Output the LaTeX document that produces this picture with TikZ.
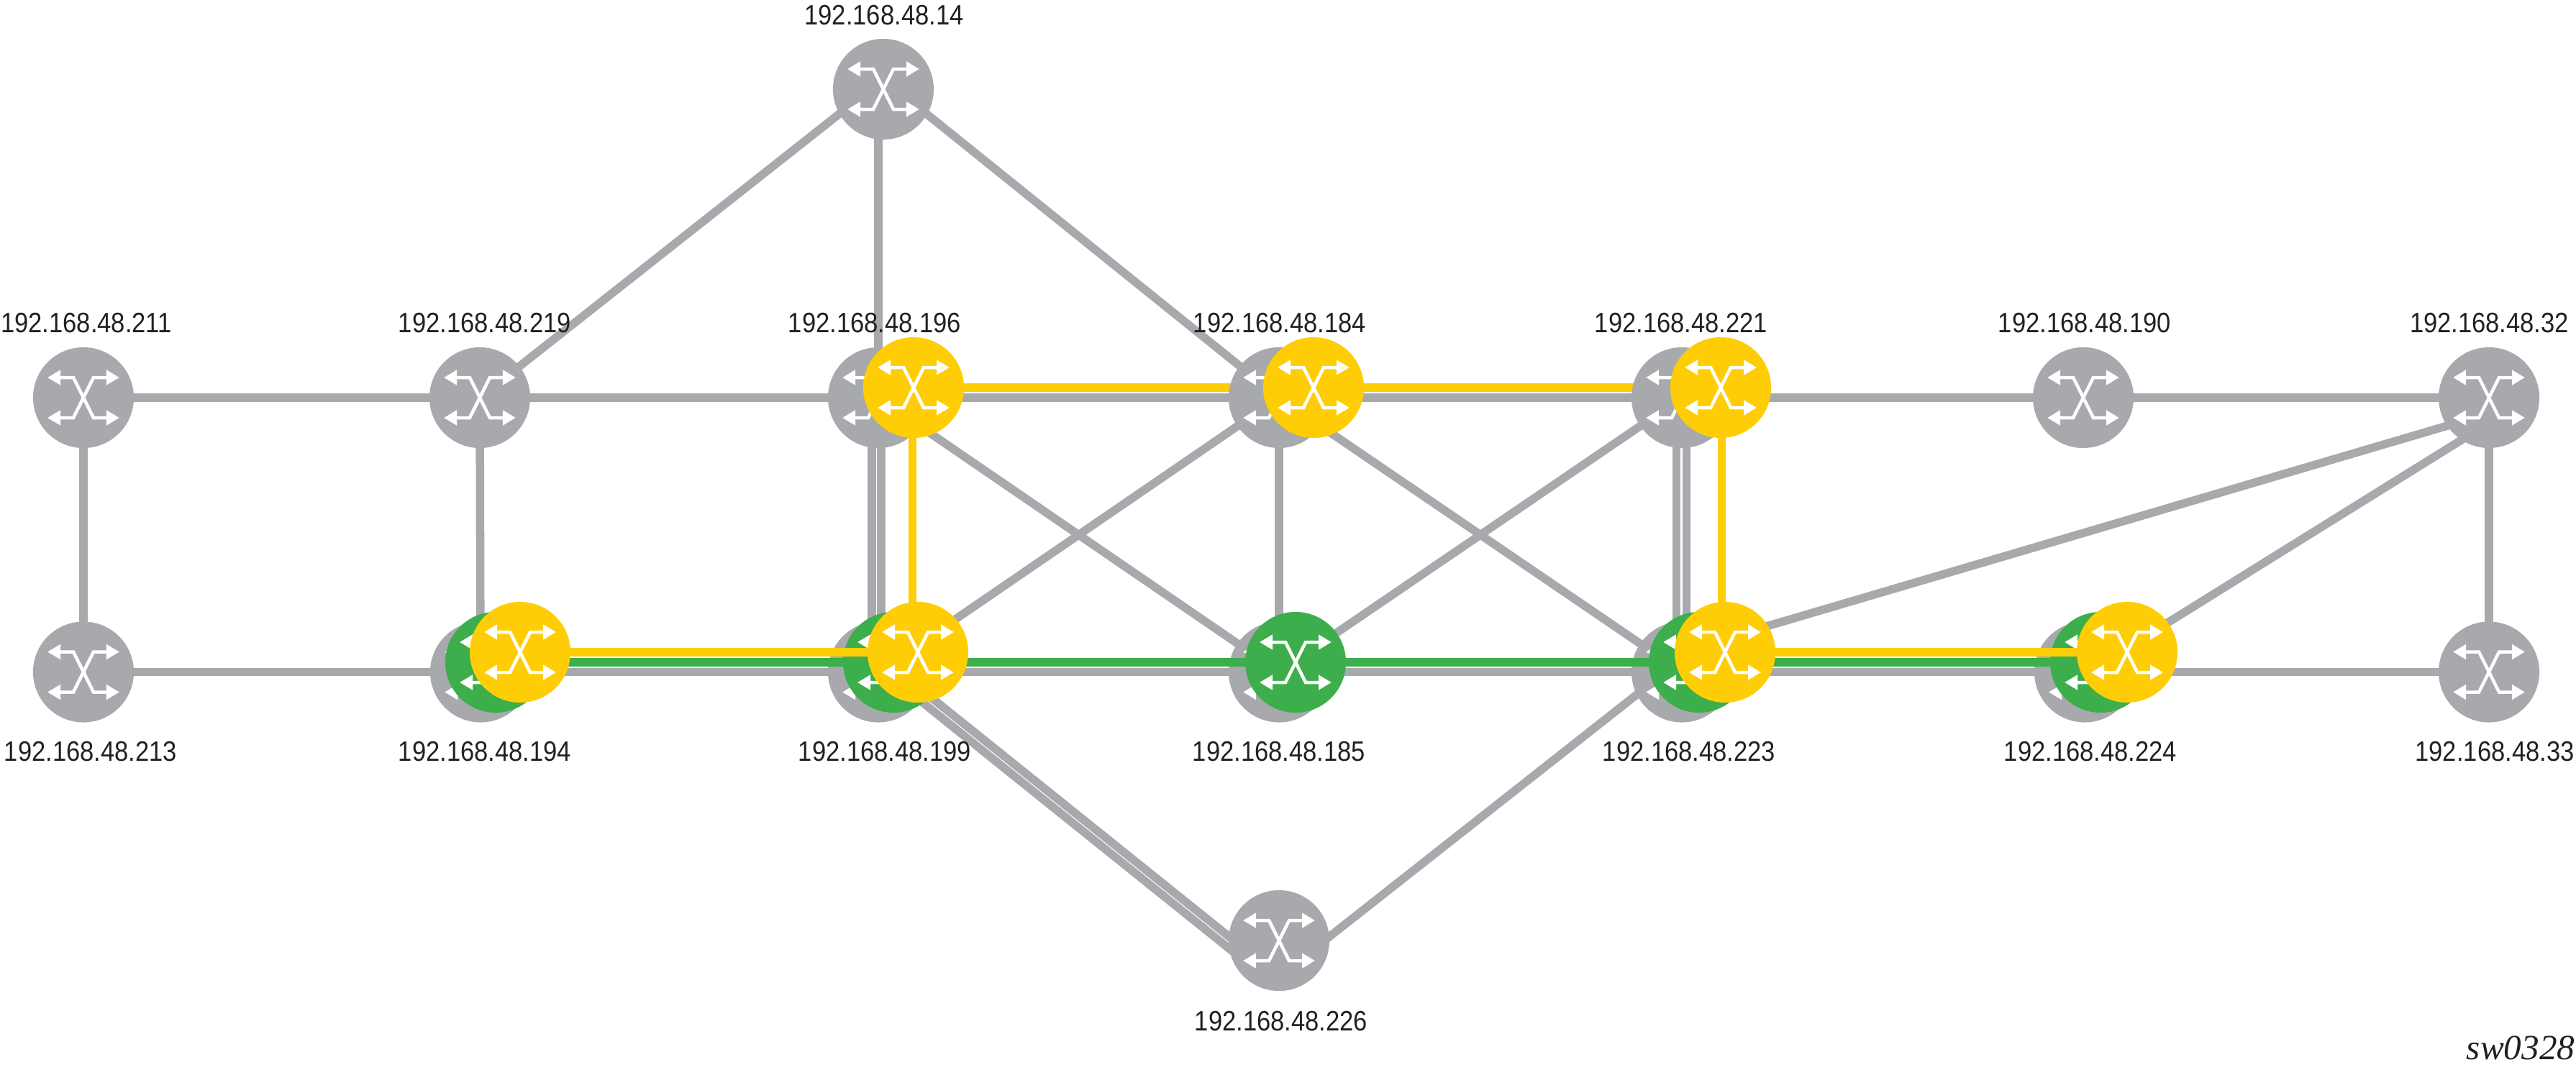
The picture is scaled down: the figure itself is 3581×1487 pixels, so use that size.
\documentclass[tikz,border=0pt]{standalone}
\usepackage{fontspec}
\setmainfont[FakeStretch=0.885]{Liberation Sans}
\newfontfamily\tagfont{Liberation Serif}
\usetikzlibrary{arrows.meta}
\definecolor{lnkgray}{HTML}{A7A9AC}
\definecolor{lnkgreen}{HTML}{3CAE4B}
\definecolor{lnkyellow}{HTML}{FFCD05}
\definecolor{lbltext}{HTML}{231F20}
\pgfdeclarelayer{graylinks}
\pgfdeclarelayer{greenlinks}
\pgfdeclarelayer{greennodes}
\pgfdeclarelayer{yellowlinks}
\pgfdeclarelayer{yellownodes}
\pgfsetlayers{graylinks,main,greenlinks,greennodes,yellowlinks,yellownodes}
\tikzset{
	swarrow/.style={white,line width=0.045cm,
		{Triangle[length=0.18cm,width=0.2cm]}-{Triangle[length=0.18cm,width=0.2cm]}},
	switch/.style={circle,fill=#1,minimum size=1.4cm,inner sep=0pt,
		path picture={
			\begin{scope}[shift={(path picture bounding box.center)}]
				\draw[swarrow] (-50,-28) -- (-14,-28) -- (14,28) -- (50,28);
				\draw[swarrow] (-50,28) -- (-14,28) -- (14,-28) -- (50,-28);
			\end{scope}
		}},
	link/.style={draw=#1,line width=0.115cm},
	addr/.style={text=lbltext,inner sep=0pt,font=\fontsize{11.1}{13}\selectfont}
}
\begin{document}
\begin{tikzpicture}[x=0.01cm,y=-0.01cm]
	\useasboundingbox (0,0) rectangle (3581,1487);
	% gray switches
	\node [switch=lnkgray] (g14) at (1228,124) {};
	\node [switch=lnkgray] (g211) at (116,553) {};
	\node [switch=lnkgray] (g219) at (667,553) {};
	\node [switch=lnkgray] (g196) at (1221,553) {};
	\node [switch=lnkgray] (g184) at (1778,553) {};
	\node [switch=lnkgray] (g221) at (2338,553) {};
	\node [switch=lnkgray] (g190) at (2896,553) {};
	\node [switch=lnkgray] (g32) at (3460,553) {};
	\node [switch=lnkgray] (g213) at (116,934.5) {};
	\node [switch=lnkgray] (g194) at (668,934.5) {};
	\node [switch=lnkgray] (g199) at (1221,934.5) {};
	\node [switch=lnkgray] (g185) at (1778,934.5) {};
	\node [switch=lnkgray] (g223) at (2338,934.5) {};
	\node [switch=lnkgray] (g224) at (2898,934.5) {};
	\node [switch=lnkgray] (g33) at (3460,934.5) {};
	\node [switch=lnkgray] (g226) at (1778,1308) {};
	% green switches
	\begin{pgfonlayer}{greennodes}
		\node [switch=lnkgreen] (c194) at (689,921) {};
		\node [switch=lnkgreen] (c199) at (1242,921) {};
		\node [switch=lnkgreen] (c185) at (1801,921) {};
		\node [switch=lnkgreen] (c223) at (2362,921) {};
		\node [switch=lnkgreen] (c224) at (2920,921) {};
	\end{pgfonlayer}
	% yellow switches
	\begin{pgfonlayer}{yellownodes}
		\node [switch=lnkyellow] (y196) at (1270,539) {};
		\node [switch=lnkyellow] (y184) at (1826,539) {};
		\node [switch=lnkyellow] (y221) at (2392,539) {};
		\node [switch=lnkyellow] (y194) at (723,907) {};
		\node [switch=lnkyellow] (y199) at (1276,907) {};
		\node [switch=lnkyellow] (y223) at (2398,907) {};
		\node [switch=lnkyellow] (y224) at (2957,907) {};
	\end{pgfonlayer}
	% gray links
	\begin{pgfonlayer}{graylinks}
		\draw [link=lnkgray] (g211.center) -- (g219.center) -- (g196.center) -- (g184.center) -- (g221.center) -- (g190.center) -- (g32.center);
		\draw [link=lnkgray] (g213.center) -- (g194.center) -- (g199.center) -- (g185.center) -- (g223.center) -- (g224.center) -- (g33.center);
		\draw [link=lnkgray] (g211.center) -- (g213.center);
		\draw [link=lnkgray] (g219.center) -- (g194.center);
		\draw [link=lnkgray] (g184.center) -- (g185.center);
		\draw [link=lnkgray] (g32.center) -- (g33.center);
		\draw [link=lnkgray] (g196.center) -- (g196.center |- g14.center);
		\draw [link=lnkgray] ([shift={(0,-14)}]g14.center) -- (g219.center);
		\draw [link=lnkgray] ([shift={(0,-14)}]g14.center) -- (g184.center);
		\draw [link=lnkgray] ([shift={(-9,0)}]g196.center) -- ([shift={(-9,0)}]g199.center);
		\draw [link=lnkgray] ([shift={(4,0)}]g196.center) -- ([shift={(4,0)}]g199.center);
		\draw [link=lnkgray] ([shift={(-7.5,0)}]g221.center) -- ([shift={(-7.5,0)}]g223.center);
		\draw [link=lnkgray] ([shift={(6.5,0)}]g221.center) -- ([shift={(6.5,0)}]g223.center);
		\draw [link=lnkgray] (g196.center) -- (g185.center);
		\draw [link=lnkgray] (g184.center) -- (g199.center);
		\draw [link=lnkgray] (g184.center) -- (g223.center);
		\draw [link=lnkgray] (g221.center) -- (g185.center);
		\draw [link=lnkgray] ([shift={(23,-5)}]g199.center) -- ([shift={(-34,23)}]g226.center);
		\draw [link=lnkgray] ([shift={(15,5)}]g199.center) -- ([shift={(-42,33)}]g226.center);
		\draw [link=lnkgray] ([shift={(20,34)}]g226.center) -- ([shift={(0,-18)}]g223.center);
		\draw [link=lnkgray] ([shift={(0,22)}]g32.center) -- ([shift={(0,-19)}]y223.center);
		\draw [link=lnkgray] ([shift={(0,35)}]g32.center) -- ([shift={(0,-6)}]y224.center);
		% yellow links of the top row
		\draw [link=lnkyellow] (y196.center) -- (y184.center) -- (y221.center);
	\end{pgfonlayer}
	% green links
	\begin{pgfonlayer}{greenlinks}
		\draw [link=lnkgreen] (c194.center) -- (c199.center) -- (c185.center) -- (c223.center) -- (c224.center);
	\end{pgfonlayer}
	% yellow links
	\begin{pgfonlayer}{yellowlinks}
		\draw [link=lnkyellow] (y194.center) -- (y199.center);
		\draw [link=lnkyellow] (y223.center) -- (y224.center);
		\draw [link=lnkyellow] ([shift={(-1.5,0)}]y196.center) -- ([shift={(-7.5,0)}]y199.center);
		\draw [link=lnkyellow] ([shift={(1.5,0)}]y221.center) -- ([shift={(-4.5,0)}]y223.center);
	\end{pgfonlayer}
	% addresses
	\node [addr] (a14) at (1229,21) {192.168.48.14};
	\node [addr] (a211) at (120,449.5) {192.168.48.211};
	\node [addr] (a219) at (674,449.5) {192.168.48.219};
	\node [addr] (a196) at (1216,449.5) {192.168.48.196};
	\node [addr] (a184) at (1779,449.5) {192.168.48.184};
	\node [addr] (a221) at (2337,449.5) {192.168.48.221};
	\node [addr] (a190) at (2898,449.5) {192.168.48.190};
	\node [addr] (a32) at (3460.5,449.5) {192.168.48.32};
	\node [addr] (a213) at (126,1045) {192.168.48.213};
	\node [addr] (a194) at (674,1045) {192.168.48.194};
	\node [addr] (a199) at (1230,1045) {192.168.48.199};
	\node [addr] (a185) at (1778,1045) {192.168.48.185};
	\node [addr] (a223) at (2348,1045) {192.168.48.223};
	\node [addr] (a224) at (2906,1045) {192.168.48.224};
	\node [addr] (a33) at (3468,1045) {192.168.48.33};
	\node [addr] (a226) at (1781,1420) {192.168.48.226};
	% artwork tag
	\node [anchor=base east,inner sep=0pt,text=lbltext,font=\tagfont\itshape\fontsize{14}{16}\selectfont] (tag) at (3580,1473) {sw0328};
\end{tikzpicture}
\end{document}
